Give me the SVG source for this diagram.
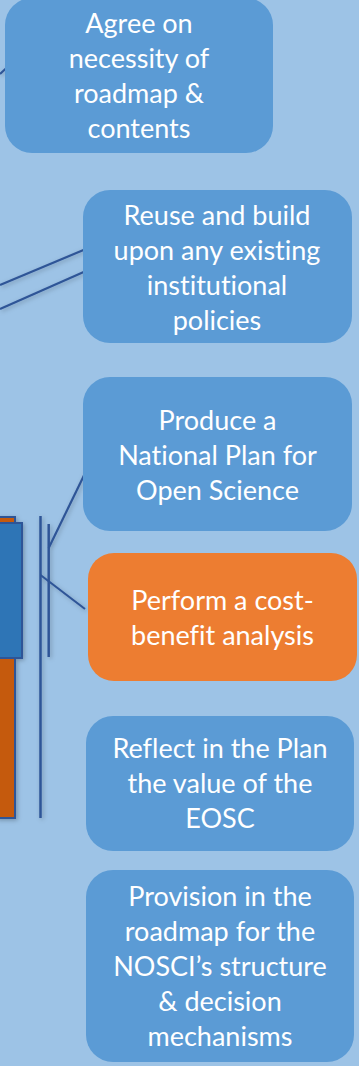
<svg xmlns="http://www.w3.org/2000/svg" width="359" height="1066" viewBox="0 0 359 1066">
<style>
.box{fill:#5B9BD5;}
.orange{fill:#ED7D31;}
.t{font-family:Lato,"Open Sans",sans-serif;font-size:27px;fill:#FFFFFF;text-anchor:middle;font-variant-ligatures:none;font-feature-settings:"liga" 0;}
.ln{stroke:#2F5597;stroke-width:2.2;fill:none;stroke-linecap:butt;}
.vl{stroke:#2F5597;stroke-width:2.5;fill:none;}
</style>
<defs>
<filter id="sh" x="-50%" y="-50%" width="200%" height="200%">
<feDropShadow dx="1.5" dy="1.5" stdDeviation="2" flood-color="#000" flood-opacity="0.25"/>
</filter>
</defs>
<rect x="0" y="0" width="359" height="1066" fill="#9DC3E6"/>

<g id="left-shapes" filter="url(#sh)">
<rect x="-3" y="517" width="18" height="301" fill="#C55A11" stroke="#2F5597" stroke-width="2"/>
<rect x="-3" y="523" width="25" height="135" fill="#2E75B6" stroke="#2F5597" stroke-width="2"/>
</g>

<g id="connectors" filter="url(#sh)">
<line class="ln" x1="0" y1="74" x2="15.5" y2="59.5"/>
<line class="ln" x1="0" y1="285" x2="99" y2="243.5"/>
<line class="ln" x1="0" y1="309" x2="104" y2="263"/>
<line class="vl" x1="40.5" y1="516" x2="40.5" y2="818"/>
<line class="vl" x1="48.7" y1="524" x2="48.7" y2="657"/>
<line class="ln" x1="48.7" y1="548" x2="99.5" y2="443.5"/>
<line class="ln" x1="40.5" y1="575" x2="85" y2="609"/>
</g>

<g id="node-agree">
<rect class="box" x="5" y="-2" width="268" height="155" rx="27"/>
<text class="t" x="139" y="33">Agree on</text>
<text class="t" x="139" y="68">necessity of</text>
<text class="t" x="139" y="103">roadmap &amp;</text>
<text class="t" x="139" y="138">contents</text>
</g>

<g id="node-reuse">
<rect class="box" x="83" y="190" width="269" height="153" rx="27"/>
<text class="t" x="217" y="225">Reuse and build</text>
<text class="t" x="217" y="260">upon any existing</text>
<text class="t" x="217" y="295">institutional</text>
<text class="t" x="217" y="330">policies</text>
</g>

<g id="node-produce">
<rect class="box" x="83" y="377" width="269" height="154" rx="27"/>
<text class="t" x="217.5" y="430">Produce a</text>
<text class="t" x="217.5" y="465">National Plan for</text>
<text class="t" x="217.5" y="500">Open Science</text>
</g>

<g id="node-perform">
<rect class="orange" x="88" y="553" width="269" height="128" rx="26"/>
<text class="t" x="222.5" y="610">Perform a cost-</text>
<text class="t" x="222.5" y="645">benefit analysis</text>
</g>

<g id="node-reflect">
<rect class="box" x="86" y="716" width="268" height="135" rx="27"/>
<text class="t" x="220" y="758">Reflect in the Plan</text>
<text class="t" x="220" y="793">the value of the</text>
<text class="t" x="220" y="828">EOSC</text>
</g>

<g id="node-provision">
<rect class="box" x="86" y="870" width="268" height="192" rx="27"/>
<text class="t" x="220" y="906">Provision in the</text>
<text class="t" x="220" y="941">roadmap for the</text>
<text class="t" x="220" y="976">NOSCI’s structure</text>
<text class="t" x="220" y="1011">&amp; decision</text>
<text class="t" x="220" y="1046">mechanisms</text>
</g>
</svg>
